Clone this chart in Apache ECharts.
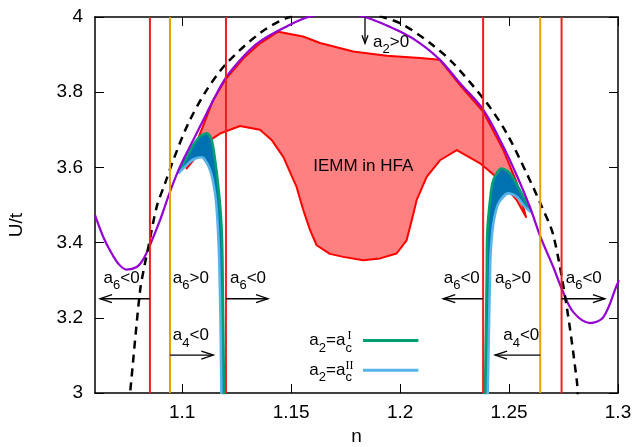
<!DOCTYPE html>
<html><head><meta charset="utf-8">
<script src="https://cdn.jsdelivr.net/npm/echarts@6/dist/echarts.min.js"></script>
<style>html,body{margin:0;padding:0;background:#fff}#c{width:635px;height:447px}</style>
</head><body><div id="c"></div>
<script>
// ---------- data ----------
const xTicks = [1.1, 1.15, 1.2, 1.25, 1.3];
const yTicks = [3, 3.2, 3.4, 3.6, 3.8, 4];

const purpleCurve = [[1.06,3.473],[1.0638,3.415],[1.0669,3.379],[1.0707,3.344],[1.0745,3.328],[1.0791,3.335],[1.0822,3.356],[1.0852,3.393],[1.0898,3.459],[1.0944,3.535],[1.099,3.602],[1.1051,3.673],[1.1097,3.726],[1.1143,3.779],[1.12,3.838],[1.1281,3.895],[1.1357,3.935],[1.148,3.975],[1.1579,4.0],[1.171,4.012],[1.1839,4.0],[1.2015,3.957],[1.2092,3.93],[1.2183,3.886],[1.2275,3.824],[1.2382,3.753],[1.2474,3.655],[1.2535,3.579],[1.2596,3.494],[1.2647,3.411],[1.2703,3.335],[1.2745,3.273],[1.2795,3.215],[1.2872,3.186],[1.2933,3.202],[1.2994,3.286],[1.3005,3.3]];

const dashedCurve = [[1.0755,2.97],[1.0761,3.0],[1.0807,3.273],[1.0829,3.344],[1.0845,3.388],[1.0883,3.495],[1.0921,3.557],[1.0959,3.619],[1.1028,3.717],[1.1113,3.806],[1.1204,3.877],[1.1357,3.957],[1.148,3.997],[1.171,4.03],[1.192,4.0],[1.2015,3.979],[1.2137,3.931],[1.2244,3.877],[1.2398,3.771],[1.2489,3.691],[1.2581,3.584],[1.2647,3.5],[1.2703,3.42],[1.2765,3.228],[1.2811,3.033],[1.2815,3.0],[1.2818,2.97]];

const iemmUpper = [[1.102,3.597],[1.1082,3.69],[1.1143,3.78],[1.12,3.835],[1.1281,3.89],[1.1357,3.93],[1.1441,3.961],[1.1555,3.948],[1.1633,3.931],[1.1785,3.908],[1.1939,3.897],[1.2092,3.891],[1.2183,3.886],[1.2275,3.819],[1.2382,3.748],[1.2474,3.646],[1.2535,3.56],[1.2578,3.468]];
const iemmLower = [[1.102,3.597],[1.1051,3.619],[1.1082,3.655],[1.1174,3.69],[1.1265,3.71],[1.1357,3.7],[1.1412,3.672],[1.1464,3.628],[1.1525,3.548],[1.1556,3.486],[1.1587,3.433],[1.1617,3.393],[1.1678,3.37],[1.1739,3.362],[1.1831,3.353],[1.1908,3.358],[1.1984,3.371],[1.203,3.406],[1.2061,3.477],[1.2076,3.513],[1.2122,3.575],[1.2183,3.619],[1.226,3.646],[1.2367,3.611],[1.2459,3.566],[1.2535,3.513],[1.2578,3.468]];

const acILeft = [[1.0982,3.584],[1.1051,3.659],[1.1082,3.682],[1.1113,3.691],[1.1135,3.673],[1.1151,3.619],[1.1166,3.548],[1.1177,3.477],[1.1183,3.406],[1.1187,3.246],[1.1192,3.0],[1.1193,2.95]];
const acIILeft = [[1.0982,3.584],[1.1013,3.602],[1.1051,3.621],[1.109,3.627],[1.1128,3.593],[1.1151,3.531],[1.1162,3.459],[1.117,3.353],[1.1176,3.193],[1.118,3.0],[1.1181,2.95]];
const acIRight = [[1.2389,2.95],[1.239,3.0],[1.2398,3.326],[1.24,3.424],[1.2413,3.513],[1.2428,3.566],[1.2466,3.597],[1.2504,3.584],[1.255,3.539],[1.2581,3.504],[1.2601,3.481]];
const acIIRight = [[1.2401,2.95],[1.2402,3.0],[1.2413,3.326],[1.2416,3.379],[1.2428,3.451],[1.2451,3.504],[1.2497,3.531],[1.2535,3.522],[1.2573,3.495],[1.2601,3.481]];

const redLines = [1.0852, 1.1201, 1.2381, 1.2741];
const orangeLines = [1.0944, 1.2643];

const annLabels = [
  ['a{s|6}<0', 1.0722, 3.306], ['a{s|6}>0', 1.104, 3.306], ['a{s|6}<0', 1.1302, 3.306],
  ['a{s|4}<0', 1.104, 3.153],
  ['a{s|6}<0', 1.2283, 3.306], ['a{s|6}>0', 1.2518, 3.306], ['a{s|6}<0', 1.2843, 3.306],
  ['a{s|4}<0', 1.2556, 3.153]
];
const annArrows = [
  [1.0852, 3.2507, 1.0623, 3.2507], [1.1201, 3.2507, 1.1394, 3.2507],
  [1.0944, 3.1008, 1.1143, 3.1008],
  [1.2381, 3.2507, 1.2198, 3.2507], [1.2741, 3.2507, 1.294, 3.2507],
  [1.2643, 3.1008, 1.2436, 3.1008],
  [1.1839, 4.0, 1.1839, 3.930]
];
const a2Label = ['a{s|2}>0', 1.1876, 3.934];
const iemmLabel = ['IEMM in HFA', 1.1831, 3.602];
const legendRows = [['a{s|2}=a{s|c}', 'I', 3.1395, '#009e73'], ['a{s|2}=a{s|c}', 'II', 3.0608, '#56b4e9']];

// ---------- chart ----------
const FONT = '"Liberation Sans", Arial, Helvetica, sans-serif';
const chart = echarts.init(document.getElementById('c'), null, {renderer: 'canvas'});

function poly(points, style, z) {
  return {
    type: 'custom', coordinateSystem: 'cartesian2d', xAxisIndex: 0, yAxisIndex: 0,
    clip: true, z: z, silent: true, animation: false,
    data: [points[0]],
    renderItem: function (params, api) {
      return {type: 'polygon', shape: {points: points.map(p => api.coord(p))}, style: style};
    }
  };
}
function curve(points, color, width, dash, z, smooth) {
  return {
    type: 'line', xAxisIndex: 0, yAxisIndex: 0, data: points, showSymbol: false, symbol: 'none',
    clip: true, z: z, silent: true, animation: false, smooth: smooth || false,
    lineStyle: {color: color, width: width, type: dash || 'solid', cap: 'butt'}
  };
}

const series = [];
series.push(poly(iemmUpper.concat(iemmLower.slice().reverse()), {fill: '#ff8080', stroke: '#ff0000', lineWidth: 2, lineJoin: 'round'}, 2));
series.push(poly(acILeft.concat(acIILeft.slice().reverse()), {fill: '#0072b2'}, 3));
series.push(poly(acIRight.concat(acIIRight.slice().reverse()), {fill: '#0072b2'}, 3));
series.push(curve(acILeft, '#009e73', 2.6, null, 4, 0.3));
series.push(curve(acIILeft, '#56b4e9', 2.6, null, 4, 0.3));
series.push(curve(acIRight, '#009e73', 2.6, null, 4, 0.3));
series.push(curve(acIIRight, '#56b4e9', 2.6, null, 4, 0.3));
series.push(curve(purpleCurve, '#9400d3', 2.2, null, 5, 0.35));
series.push(curve(dashedCurve, '#000000', 2.5, [8, 6], 6, 0.3));
redLines.forEach(x => series.push(curve([[x, 3], [x, 4]], '#f01e1e', 2, null, 7)));
orangeLines.forEach(x => series.push(curve([[x, 3], [x, 4]], '#e8a000', 2, null, 7)));

const axisLine = {show: true, onZero: false, lineStyle: {color: '#000', width: 1.5}};
const tickStyle = {inside: true, length: 9, lineStyle: {color: '#000', width: 1}};
const option = {
  animation: false,
  backgroundColor: '#fff',
  grid: {left: 95, right: 17, top: 17, bottom: 54, containLabel: false},
  xAxis: [
    {type: 'value', min: 1.06, max: 1.3, position: 'bottom', axisLine: axisLine,
     axisTick: Object.assign({customValues: xTicks}, tickStyle),
     axisLabel: {customValues: xTicks, color: '#000', fontSize: 19, fontFamily: FONT, margin: 10,
                 formatter: v => String(parseFloat(Number(v).toFixed(2)))},
     splitLine: {show: false}},
    {type: 'value', min: 1.06, max: 1.3, position: 'top', axisLine: axisLine,
     axisTick: Object.assign({customValues: xTicks}, tickStyle),
     axisLabel: {show: false}, splitLine: {show: false}}
  ],
  yAxis: [
    {type: 'value', min: 3, max: 4, interval: 0.2, position: 'left', axisLine: axisLine,
     axisTick: tickStyle,
     axisLabel: {color: '#000', fontSize: 19, fontFamily: FONT, margin: 12,
                 formatter: v => String(parseFloat(Number(v).toFixed(2)))},
     splitLine: {show: false}},
    {type: 'value', min: 3, max: 4, interval: 0.2, position: 'right', axisLine: axisLine,
     axisTick: tickStyle, axisLabel: {show: false}, splitLine: {show: false}}
  ],
  series: series
};
chart.setOption(option);

// ---------- annotations ----------
function px(n, u) { return chart.convertToPixel({xAxisIndex: 0, yAxisIndex: 0}, [n, u]); }
const richSub = {s: {fontSize: 13, lineHeight: 12, verticalAlign: 'bottom', fontFamily: FONT, fill: '#000'}};
function txt(text, p, align, size) {
  return {type: 'text', x: p[0], y: p[1], z: 100, silent: true,
    style: {text: text, fill: '#000', fontSize: size || 17, fontFamily: FONT,
            align: align || 'center', verticalAlign: 'middle',
            textAlign: align || 'center', textVerticalAlign: 'middle',
            lineHeight: 28, rich: richSub}};
}
function arrowEls(a, b, headLen, headW) {
  const dx = b[0] - a[0], dy = b[1] - a[1], L = Math.hypot(dx, dy), ux = dx / L, uy = dy / L;
  const bx = b[0] - ux * headLen, by = b[1] - uy * headLen;
  return [
    {type: 'line', z: 100, silent: true, shape: {x1: a[0], y1: a[1], x2: b[0], y2: b[1]}, style: {stroke: '#000', lineWidth: 1.3}},
    {type: 'polyline', z: 100, silent: true, shape: {points: [[bx - uy * headW, by + ux * headW], [b[0], b[1]], [bx + uy * headW, by - ux * headW]]},
     style: {stroke: '#000', lineWidth: 1.3, fill: null}}
  ];
}
const g = [];
annLabels.forEach(l => g.push(txt(l[0], px(l[1], l[2]))));
annArrows.forEach(a => {
  const vert = a[0] === a[2];
  arrowEls(px(a[0], a[1]), px(a[2], a[3]), vert ? 8 : 12, vert ? 3 : 4).forEach(e => g.push(e));
});
g.push(txt(a2Label[0], px(a2Label[1], a2Label[2]), 'left'));
g.push(txt(iemmLabel[0], px(iemmLabel[1], iemmLabel[2]), 'center'));
// legend
const legTextN = 1.1779, legLine0 = 1.183, legLine1 = 1.2084;
legendRows.forEach(r => {
  const p = px(legTextN, r[2]);
  g.push(txt(r[0], p, 'right'));
  g.push({type: 'text', x: p[0] - 2.5, y: p[1] - 4.5, z: 101, silent: true,
    style: {text: r[1], fill: '#000', fontSize: 12, fontFamily: '"Liberation Serif", "Times New Roman", serif',
            align: 'center', verticalAlign: 'middle', textAlign: 'center', textVerticalAlign: 'middle'}});
  const a = px(legLine0, r[2]), b = px(legLine1, r[2]);
  g.push({type: 'line', z: 100, silent: true, shape: {x1: a[0], y1: a[1], x2: b[0], y2: b[1]}, style: {stroke: r[3], lineWidth: 3}});
});
// axis names
g.push({type: 'text', x: 356.5, y: 437, z: 100, silent: true,
  style: {text: 'n', fill: '#000', fontSize: 19, fontFamily: FONT, align: 'center', verticalAlign: 'middle', textAlign: 'center', textVerticalAlign: 'middle'}});
g.push({type: 'text', x: 17, y: 225, rotation: Math.PI / 2, z: 100, silent: true,
  style: {text: 'U/t', fill: '#000', fontSize: 19, fontFamily: FONT, align: 'center', verticalAlign: 'middle', textAlign: 'center', textVerticalAlign: 'middle'}});
chart.setOption({graphic: {elements: g}});
</script>
</body></html>
